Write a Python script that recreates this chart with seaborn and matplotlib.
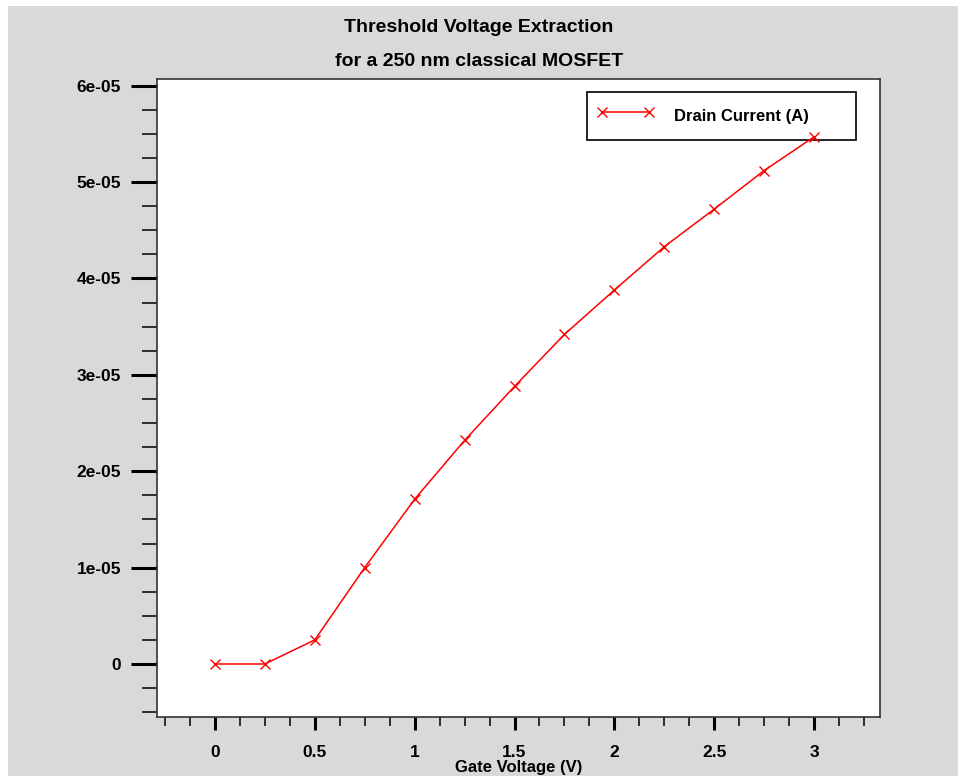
import numpy as np
import pandas as pd
import matplotlib
matplotlib.use("Agg")
import matplotlib.pyplot as plt
import seaborn as sns
from matplotlib.ticker import MultipleLocator, FuncFormatter
from matplotlib.patches import Rectangle

gate_voltage = [0.0, 0.25, 0.5, 0.75, 1.0, 1.25, 1.5, 1.75, 2.0, 2.25, 2.5, 2.75, 3.0]
drain_current = [0.0, 0.0, 2.5e-6, 1.0e-5, 1.71e-5, 2.32e-5, 2.88e-5, 3.42e-5,
                 3.88e-5, 4.33e-5, 4.72e-5, 5.12e-5, 5.47e-5]
series_label = "Drain Current (A)"
title_lines = ["Threshold Voltage Extraction", "for a 250 nm classical MOSFET"]
x_label = "Gate Voltage (V)"

df = pd.DataFrame({"Gate Voltage (V)": gate_voltage, series_label: drain_current})

sns.set_style("ticks")
plt.rcParams["font.family"] = ["Liberation Sans", "DejaVu Sans"]
plt.rcParams["text.color"] = "black"
plt.rcParams["xtick.color"] = "black"
plt.rcParams["ytick.color"] = "black"
plt.rcParams["axes.labelcolor"] = "black"

bg = "#d9d9d9"
red = "#ff0000"
fig = plt.figure(figsize=(9.58, 7.76), dpi=100, facecolor="white")
fig.patches.append(Rectangle((8/958, 0), 1 - 8/958, 1 - 6/776, transform=fig.transFigure,
                             facecolor=bg, edgecolor="none", zorder=-10))
ax = fig.add_axes([157/958, 1-717/776, (880-157)/958, (717-79)/776])
ax.set_facecolor("white")

sns.lineplot(data=df, x="Gate Voltage (V)", y=series_label, ax=ax, color=red,
             marker="x", markersize=7, markeredgewidth=1.0, markeredgecolor=red,
             markerfacecolor=red, linewidth=1.1, label=series_label, zorder=6)

ax.set_xlim(-0.29, 3.33)
ax.set_ylim(-5.5e-6, 6.07e-5)
ax.xaxis.set_major_locator(MultipleLocator(0.5))
ax.xaxis.set_minor_locator(MultipleLocator(0.125))
ax.yaxis.set_major_locator(MultipleLocator(1e-5))
ax.yaxis.set_minor_locator(MultipleLocator(2.5e-6))

def xfmt(v, pos):
    return f"{v:g}"

def yfmt(v, pos):
    if abs(v) < 1e-12:
        return "0"
    return f"{v:.0e}"

ax.xaxis.set_major_formatter(FuncFormatter(xfmt))
ax.yaxis.set_major_formatter(FuncFormatter(yfmt))

for sp in ax.spines.values():
    sp.set_color("#333333")
    sp.set_linewidth(1.2)

ax.tick_params(axis="y", which="major", direction="out", length=19, width=2.2, color="black", pad=7,
               labelcolor="black")
ax.tick_params(axis="y", which="minor", direction="out", length=10.5, width=1.1, color="black")
ax.tick_params(axis="x", which="major", direction="out", length=9.5, width=2.2, color="black", pad=11,
               labelcolor="black")
ax.tick_params(axis="x", which="minor", direction="out", length=6.5, width=1.1, color="black")
for lab in ax.get_xticklabels() + ax.get_yticklabels():
    lab.set_fontweight("bold")
    lab.set_fontsize(12.5)

ax.set_xlabel(x_label, fontsize=12, fontweight="bold", labelpad=0, color="black")
ax.set_ylabel("")

for i, yy in enumerate([27, 61]):
    fig.text(0.5, 1-yy/776, title_lines[i], ha="center", va="center", fontsize=14,
             fontweight="bold", color="black")

leg = ax.legend(loc="upper right", bbox_to_anchor=(856/958, 1-92/776), bbox_transform=fig.transFigure,
                borderaxespad=0, frameon=True, fancybox=False, shadow=False, numpoints=2,
                handlelength=3.4, handletextpad=1.2, borderpad=0.6, handleheight=2.2,
                prop={"size": 12, "weight": "bold"})
leg.set_zorder(5)
leg.get_frame().set_edgecolor("black")
leg.get_frame().set_linewidth(1.2)
leg.get_frame().set_alpha(1)
for t in leg.get_texts():
    t.set_text(series_label + "        ")
    t.set_color("black")

fig.savefig("out.png", dpi=100, facecolor="white")
